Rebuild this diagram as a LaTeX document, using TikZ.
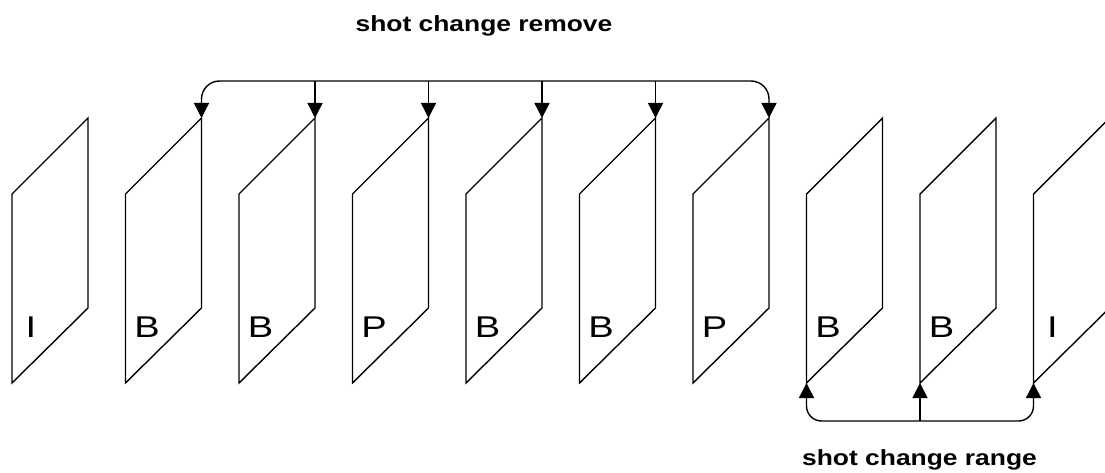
\documentclass[tikz,border=0pt]{standalone}
\usepackage{fontspec}
\setmainfont{Liberation Sans}
\usetikzlibrary{arrows.meta}
\begin{document}
\begin{tikzpicture}[x=1pt,y=-1pt,
  frame/.style={draw=black, line width=1.4pt, line join=miter},
  lbl/.style={font=\fontsize{30}{36}\selectfont, anchor=base, inner sep=0pt},
  ttl/.style={font=\bfseries\fontsize{22}{26}\selectfont, anchor=base, inner sep=0pt},
  tip/.tip={Triangle[length=15pt,width=15pt]},
  arr/.style={-tip, line width=1.4pt},
  darr/.style={tip-tip, line width=1.4pt}]
\useasboundingbox (0,0) rectangle (1105,473);
\clip (0,0) rectangle (1105,473);
\foreach \i/\t/\o in {1/I/19,2/B/21.5,3/B/21.5,4/P/21.5,5/B/21.5,6/B/21.5,7/P/21.5,8/B/21.5,9/B/21.5,10/I/19} {
  \pgfmathsetmacro\L{12+113.5*(\i-1)}
  \coordinate (bl\i) at (\L,383);
  \coordinate (tl\i) at (\L,194);
  \coordinate (tr\i) at (\L+76,118);
  \coordinate (br\i) at (\L+76,308);
  \draw[frame] (bl\i) -- (tl\i) -- (tr\i) -- (br\i) -- cycle;
  \node[lbl] (lab\i) at (\L+\o,337) {\scalebox{1.27}[1]{\t}};
}
\node[ttl] (remove) at (484,31.7) {\scalebox{1.2}[1]{shot change remove}};
\node[ttl] (range) at (919.5,465.7) {\scalebox{1.2}[1]{shot change range}};
\coordinate (top) at (484,81);
\draw[darr, rounded corners=18pt] (tr2) |- (top) -| (tr7);
\foreach \i in {3,...,6} \draw[arr] (tr\i |- top) -- (tr\i);
\coordinate (bot) at (920,421);
\draw[darr, rounded corners=15pt] (bl8) |- (bot) -| (bl10);
\draw[arr] (bl9 |- bot) -- (bl9);
\end{tikzpicture}
\end{document}
